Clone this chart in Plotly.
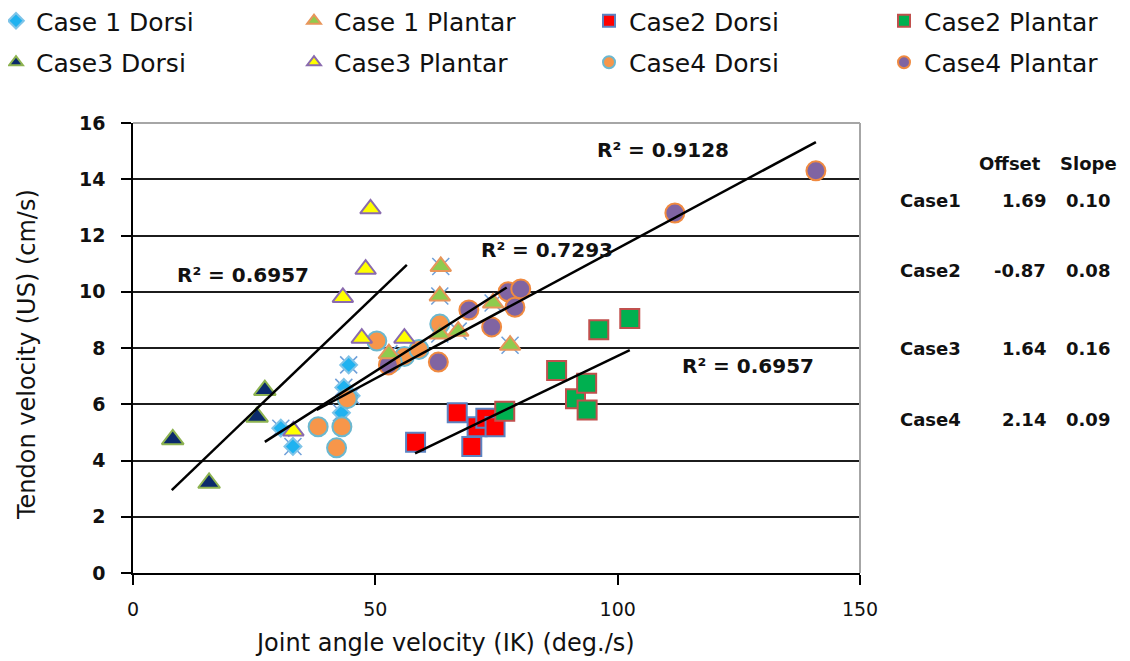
import plotly.graph_objects as go
import numpy as np

# ---------------- data ----------------
case1_dorsi_x = [44.5, 43.5, 45.0, 43.0, 30.5, 33.0]
case1_dorsi_y = [7.4, 6.6, 6.3, 5.7, 5.15, 4.5]

case1_plantar_x = [63.5, 63.3, 74.3, 67.1, 77.8, 52.8, 63.3]
case1_plantar_y = [10.9, 9.85, 9.6, 8.6, 8.1, 7.8, 8.5]

case2_dorsi_x = [58.3, 66.9, 69.9, 71.0, 72.8, 74.7]
case2_dorsi_y = [4.65, 5.7, 4.5, 5.2, 5.5, 5.2]

case2_plantar_x = [76.7, 87.4, 91.3, 93.6, 93.7, 96.1, 102.5]
case2_plantar_y = [5.75, 7.2, 6.2, 6.75, 5.8, 8.65, 9.05]

case3_dorsi_x = [8.2, 15.7, 27.2, 25.6]
case3_dorsi_y = [4.75, 3.2, 6.5, 5.55]

case3_plantar_x = [49.0, 48.0, 43.3, 47.2, 56.0, 33.1]
case3_plantar_y = [12.95, 10.8, 9.8, 8.35, 8.35, 5.05]

case4_dorsi_x = [38.2, 43.1, 42.0, 44.2, 50.3, 56.0, 59.0, 63.3, 53.5]
case4_dorsi_y = [5.2, 5.2, 4.45, 6.2, 8.25, 7.7, 7.95, 8.85, 7.5]

case4_plantar_x = [52.7, 63.0, 69.3, 74.0, 77.4, 80.0, 78.8, 111.8, 140.9]
case4_plantar_y = [7.4, 7.5, 9.35, 8.75, 10.0, 10.1, 9.45, 12.8, 14.3]

# linear trendlines (as drawn in the picture): x-range, offset, slope
trend_x0 = [27.2, 58.2, 8.0, 37.9]
trend_x1 = [77.1, 102.5, 56.5, 140.9]
trend_offset = [1.67, -0.58, 1.63, 2.29]
trend_slope = [0.110, 0.083, 0.165, 0.0925]

r2_labels = ["R² = 0.9128", "R² = 0.7293", "R² = 0.6957", "R² = 0.6957"]

table_cases = ["Case1", "Case2", "Case3", "Case4"]
table_offsets = ["1.69", "-0.87", "1.64", "2.14"]
table_slopes = ["0.10", "0.08", "0.16", "0.09"]

x_ticks = [0, 50, 100, 150]
y_ticks = [0, 2, 4, 6, 8, 10, 12, 14, 16]

# ---------------- figure geometry ----------------
W, H = 1130, 661
OFF = 8  # page body margin
L, T = 133 - OFF, 123 - OFF
R = W - (860 - OFF)
B = H - (573 - OFF)
PW, PH = W - L - R, H - T - B


def px2paper(px, py):
    """screen pixel -> paper coords"""
    return ((px - OFF) - L) / PW, (H - B - (py - OFF)) / PH


fig = go.Figure()

series = [
    ("Case 1 Dorsi", case1_dorsi_x, case1_dorsi_y, "diamond", 13, "#1FB2F0", "#7FC4E8", "legend"),
    ("Case3 Dorsi", case3_dorsi_x, case3_dorsi_y, "triangle-up", 19, "#0B2A6B", "#8DB350", "legend"),
    ("Case 1 Plantar", case1_plantar_x, case1_plantar_y, "triangle-up", 18, "#8FCB4E", "#E8955A", "legend2"),
    ("Case3 Plantar", case3_plantar_x, case3_plantar_y, "triangle-up", 18, "#FFFF00", "#8A6BAE", "legend2"),
    ("Case2 Dorsi", case2_dorsi_x, case2_dorsi_y, "square", 19, "#FF0000", "#5B83C2", "legend3"),
    ("Case4 Dorsi", case4_dorsi_x, case4_dorsi_y, "circle", 19, "#F7964A", "#6BB8D0", "legend3"),
    ("Case2 Plantar", case2_plantar_x, case2_plantar_y, "square", 19, "#00B050", "#C0504D", "legend4"),
    ("Case4 Plantar", case4_plantar_x, case4_plantar_y, "circle", 19, "#8064A2", "#F08A40", "legend4"),
]

# faint blue cross markers that sit behind the Case 1 symbols
fig.add_trace(go.Scatter(
    x=case1_dorsi_x + case1_plantar_x, y=case1_dorsi_y + case1_plantar_y,
    mode="markers", showlegend=False, hoverinfo="skip",
    marker=dict(symbol="x-thin", size=17, line=dict(color="#6F9FD8", width=1.5)),
))

draw_order = ["Case 1 Dorsi", "Case2 Dorsi", "Case2 Plantar", "Case4 Dorsi",
              "Case4 Plantar", "Case3 Dorsi", "Case 1 Plantar", "Case3 Plantar"]
by_name = {s[0]: s for s in series}
legend_rank = {s[0]: i for i, s in enumerate(series)}

for name in draw_order:
    nm, xs, ys, sym, size, fill, edge, leg = by_name[name]
    fig.add_trace(go.Scatter(
        x=xs, y=ys, mode="markers", name=nm, legend=leg,
        legendgroup=nm, legendrank=legend_rank[nm],
        marker=dict(symbol=sym, size=size, color=fill,
                    line=dict(color=edge, width=2)),
        cliponaxis=False,
    ))

for x0, x1, off, sl in zip(trend_x0, trend_x1, trend_offset, trend_slope):
    xs = np.array([x0, x1])
    fig.add_trace(go.Scatter(
        x=xs, y=off + sl * xs, mode="lines", showlegend=False,
        line=dict(color="black", width=2.5), hoverinfo="skip",
    ))

# ---- layout ----
font_main = "DejaVu Sans"
fig.update_layout(
    width=W, height=H,
    margin=dict(l=L, r=R, t=T, b=B, autoexpand=False),
    plot_bgcolor="white", paper_bgcolor="white",
    showlegend=True,
    xaxis=dict(
        range=[0, 150], tickvals=x_ticks, showgrid=False, zeroline=False,
        showline=True, linecolor="black", linewidth=1.5,
        ticks="outside", ticklen=10, tickcolor="black", tickwidth=1.5,
        tickfont=dict(family=font_main, size=19, color="#111"),
        ticklabelstandoff=8, automargin=False,
    ),
    yaxis=dict(
        range=[0, 16], tickvals=y_ticks, showgrid=True, gridcolor="#1c1c1c",
        gridwidth=1.5, zeroline=False,
        showline=True, linecolor="black", linewidth=1.5,
        ticks="outside", ticklen=10, tickcolor="black", tickwidth=1.5,
        tickfont=dict(family=font_main, size=19, color="#111", weight="bold"),
        ticklabelstandoff=12, automargin=False,
    ),
)

leg_font = dict(family=font_main, size=25, color="#111")
leg_lefts_screen = [-4, 294, 589, 884]
leg_top_screen = -2
for i, key in enumerate(["legend", "legend2", "legend3", "legend4"]):
    lx, ly = px2paper(leg_lefts_screen[i], leg_top_screen)
    fig.update_layout({key: dict(
        xref="paper", yref="paper",
        x=lx, y=ly, xanchor="left", yanchor="top",
        orientation="v", font=leg_font, itemsizing="constant",
        tracegroupgap=6, bgcolor="rgba(0,0,0,0)", borderwidth=0,
        itemwidth=30,
    )})

# top & right border of the plot area (grey)
fig.add_shape(type="line", xref="paper", yref="paper", x0=0, x1=1, y0=1, y1=1,
              line=dict(color="#a6a6a6", width=2), layer="above")
fig.add_shape(type="line", xref="paper", yref="paper", x0=1, x1=1, y0=0, y1=1,
              line=dict(color="#a6a6a6", width=2), layer="above")

annots = []


def add_text(txt, px, py, font, xanchor="center", angle=0):
    ax_, ay_ = px2paper(px, py)
    annots.append(dict(text=txt, x=ax_, y=ay_, xref="paper", yref="paper",
                       xanchor=xanchor, yanchor="middle", textangle=angle,
                       showarrow=False, font=font))


# R² labels
r2_pos = [(663, 150), (547, 250), (243, 275), (748, 366)]
r2_font = dict(family=font_main, size=20, color="#111", weight="bold")
for txt, (px, py) in zip(r2_labels, r2_pos):
    add_text(txt, px, py, r2_font)

# axis titles
title_font = dict(family=font_main, size=24, color="#111")
add_text("Joint angle velocity (IK) (deg./s)", 445, 643, title_font)
add_text("Tendon velocity (US) (cm/s)", 27, 355, title_font, angle=-90)

# table on the right
tfont = dict(family=font_main, size=18, color="#111", weight="bold")
add_text("Offset", 1010, 163, tfont)
add_text("Slope", 1088, 163, tfont)
row_y = [200, 270, 348, 420]
for c, o, s, py in zip(table_cases, table_offsets, table_slopes, row_y):
    add_text(c, 930, py, tfont)
    add_text(o, 1048, py, tfont, xanchor="right")
    add_text(s, 1088, py, tfont)

fig.update_layout(annotations=annots)

fig.write_html("out.html")
